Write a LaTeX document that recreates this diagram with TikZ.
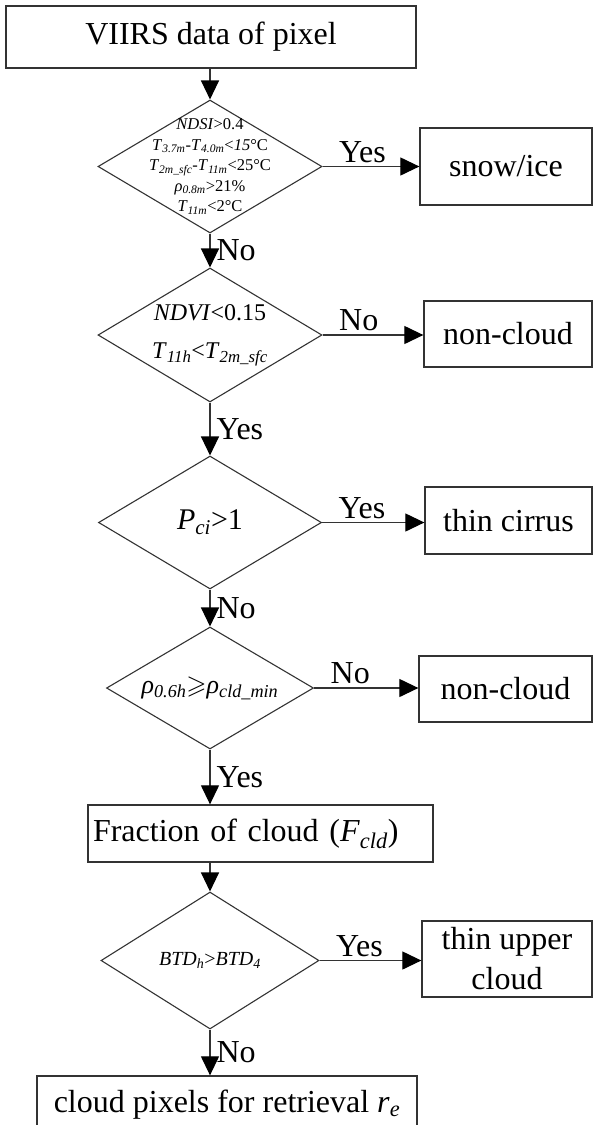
\documentclass[tikz,border=0pt]{standalone}
\usepackage{fontspec}
\setmainfont{Liberation Serif}
\usepackage{amssymb}
\usetikzlibrary{arrows.meta,shapes.geometric}
\definecolor{lineCol}{HTML}{333333}
\newcommand{\sbs}[1]{\textsubscript{\textit{#1}}}
\newcommand{\bigtxt}{\fontsize{32}{40}\selectfont}
\tikzset{
  box/.style={draw=lineCol, line width=1.3pt, font=\bigtxt, align=center, inner sep=0pt},
  dec/.style 2 args={diamond, draw=lineCol, line width=1.1pt, inner sep=0pt,
                     minimum width=#1, minimum height=#2},
  dtxt/.style={align=center, inner sep=0pt},                        % text inside a decision
  arr/.style={-{Triangle[length=19pt,width=18pt,black]}, draw=lineCol, line width=1.2pt},
  hlbl/.style={anchor=base west, pos=0, xshift=16pt, yshift=4.5pt, font=\bigtxt, inner sep=0pt},
  vlbl/.style={anchor=west, midway, xshift=6pt, font=\bigtxt, inner sep=0pt},
}
\newcommand{\branch}[3]{\draw[arr] (#1.east) -- (#1.east -| #2.west) node[hlbl]{#3};}
\begin{document}
\begin{tikzpicture}[x=1pt,y=-1pt]
  \useasboundingbox (0,0) rectangle (597,1125);
  \clip (0,0) rectangle (597,1125);
  \def\xc{210}

  \node[box, minimum width=410pt, minimum height=62pt] (src) at (211,37) {VIIRS data of pixel};

  \node[dec={224pt}{133pt}] (d1) at (\xc,166.5) {};
  \node[dtxt, font=\fontsize{16.5}{20.5}\selectfont] (d1t) at (d1) {%
    \textit{NDSI}>0.4\\
    \textit{T}\sbs{3.7m}-\textit{T}\sbs{4.0m}<\textit{15}°C\\
    \textit{T}\sbs{2m\_sfc}-\textit{T}\sbs{11m}<25°C\\
    \textit{ρ}\sbs{0.8m}>21\%\\
    \textit{T}\sbs{11m}<2°C};
  \node[box, minimum width=172pt, minimum height=77pt] (snow) at (506,166.5) {snow/ice};

  \node[dec={224pt}{134pt}] (d2) at (\xc,335) {};
  \node[dtxt, font=\fontsize{24}{38}\selectfont] (d2t) at (d2) {%
    \textit{NDVI}<0.15\\
    \textit{T}\sbs{11h}<\textit{T}\sbs{2m\_sfc}};
  \node[box, minimum width=168pt, minimum height=66pt] (nc1) at (508,334) {non-cloud};

  \node[dec={223pt}{133pt}] (d3) at (\xc,522.5) {};
  \node[dtxt, font=\fontsize{30}{36}\selectfont] (d3t) at (d3) {\textit{P}\sbs{ci}>1};
  \node[box, minimum width=167pt, minimum height=67pt] (cir) at (508.5,520.5) {thin cirrus};

  \node[dec={207pt}{122pt}] (d4) at (\xc,688) {};
  \node[dtxt, font=\fontsize{26}{30}\selectfont] (d4t) at (d4)
    {\textit{ρ}\sbs{0.6h}$\geqslant$\textit{ρ}\sbs{cld\_min}};
  \node[box, minimum width=173pt, minimum height=66pt] (nc2) at (505.5,689) {non-cloud};

  \node[box, minimum height=57pt, text width=335pt, align=left, inner xsep=5pt] (frac)
    at (260.5,833.5) {Fraction of cloud (\textit{F}\sbs{cld})};

  \node[dec={218pt}{137pt}] (d5) at (\xc,960.5) {};
  \node[dtxt, font=\fontsize{20}{24}\selectfont] (d5t) at (d5) {\textit{BTD}\sbs{h}>\textit{BTD}\sbs{4}};
  \node[box, minimum width=170pt, minimum height=76pt] (upc) at (507,959) {thin upper\\cloud};

  \node[box, minimum width=380pt, minimum height=58pt] (ret) at (227,1105)
    {cloud pixels for retrieval \textit{r}\sbs{e}};

  % main column
  \draw[arr] (d1.north |- src.south) -- (d1.north);
  \draw[arr] (d1.south) -- (d2.north) node[vlbl]{No};
  \draw[arr] (d2.south) -- (d3.north) node[vlbl]{Yes};
  \draw[arr] (d3.south) -- (d4.north) node[vlbl]{No};
  \draw[arr] (d4.south) -- (d4.south |- frac.north) node[vlbl]{Yes};
  \draw[arr] (d5.north |- frac.south) -- (d5.north);
  \draw[arr] (d5.south) -- (d5.south |- ret.north) node[vlbl]{No};

  % side exits
  \branch{d1}{snow}{Yes}
  \branch{d2}{nc1}{No}
  \branch{d3}{cir}{Yes}
  \branch{d4}{nc2}{No}
  \branch{d5}{upc}{Yes}
\end{tikzpicture}
\end{document}
